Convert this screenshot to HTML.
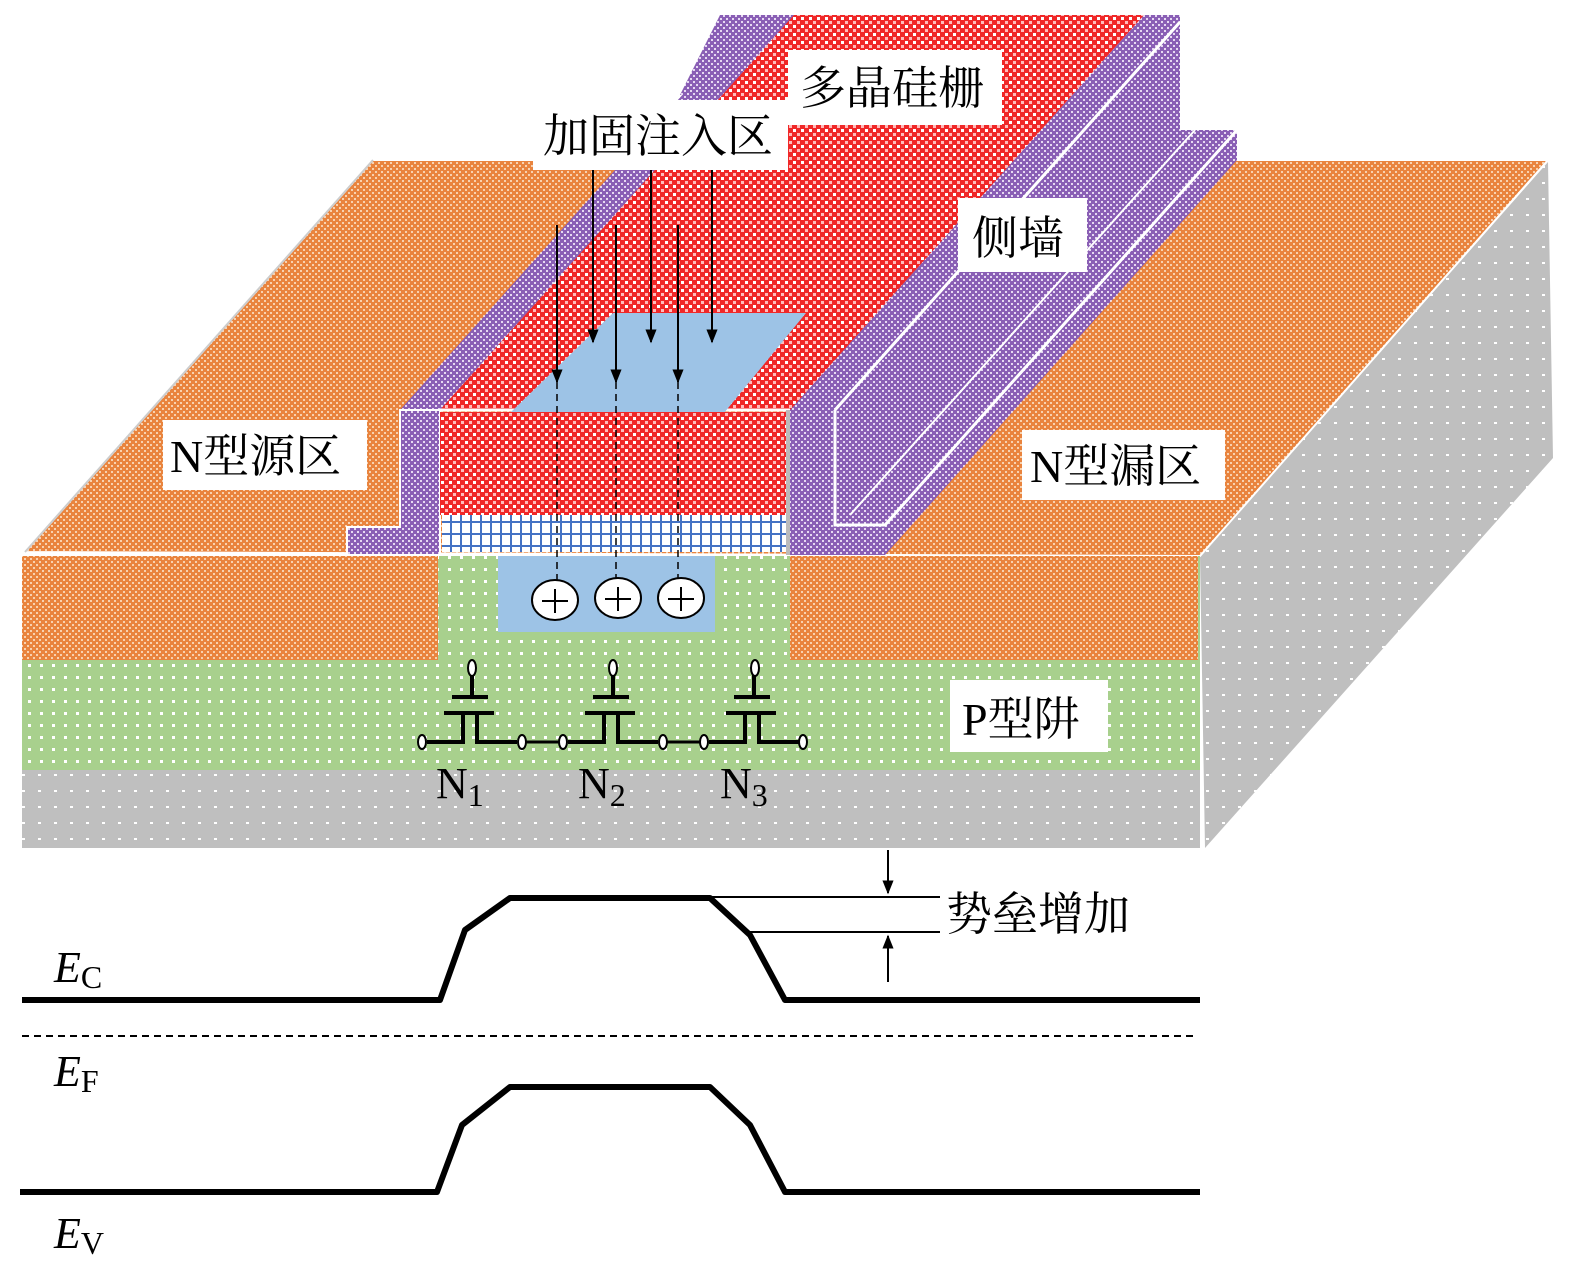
<!DOCTYPE html>
<html><head><meta charset="utf-8">
<style>
html,body{margin:0;padding:0;background:#fff;}
svg{display:block;}
.lbl{font-family:"Liberation Serif","Noto Serif CJK SC","Noto Sans CJK SC",serif;font-size:46px;fill:#000;}
.it{font-family:"Liberation Serif",serif;font-style:italic;font-size:44px;}
.sub{font-family:"Liberation Serif",serif;font-size:32px;}
</style></head><body>
<svg width="1575" height="1280" viewBox="0 0 1575 1280" xmlns="http://www.w3.org/2000/svg">
<defs>
<pattern id="or" width="6" height="6" patternUnits="userSpaceOnUse"><rect width="6" height="6" fill="#e9843e"/><rect x="0" y="0" width="2" height="2" fill="#f8d2b0"/><rect x="3" y="3" width="2" height="2" fill="#f8d2b0"/></pattern>
<pattern id="rd" width="8" height="8" patternUnits="userSpaceOnUse"><rect width="8" height="8" fill="#f02828"/><rect x="1" y="1" width="3" height="3" fill="#fff"/><rect x="5" y="5" width="3" height="3" fill="#fbb"/></pattern>
<pattern id="pu" width="6" height="6" patternUnits="userSpaceOnUse"><rect width="6" height="6" fill="#8a5fb5"/><rect x="0" y="0" width="2" height="2" fill="#e6d9f2"/><rect x="3" y="3" width="2" height="2" fill="#e6d9f2"/></pattern>
<pattern id="gr" width="12" height="12" patternUnits="userSpaceOnUse"><rect width="12" height="12" fill="#a8d08d"/><rect x="4" y="4" width="3" height="3" fill="#fff"/></pattern>
<pattern id="gy" width="16" height="16" patternUnits="userSpaceOnUse"><rect width="16" height="16" fill="#bfbfbf"/><rect x="6" y="6" width="3" height="2" fill="#fff"/></pattern>
<pattern id="bg" width="10" height="12" patternUnits="userSpaceOnUse"><rect width="10" height="12" fill="#fff"/><rect x="0" y="0" width="2" height="12" fill="#4472c4"/><rect x="0" y="5" width="10" height="2" fill="#4472c4"/></pattern>
<marker id="ar" viewBox="0 0 10 10" refX="9" refY="5" markerWidth="7" markerHeight="9" orient="auto"><path d="M0,1 L10,5 L0,9 z" fill="#000"/></marker>
</defs>

<polygon points="1200,556 1548,162 1553,458 1205,848" fill="url(#gy)"/>
<polygon points="25,552 373,160 1548,160 1200,556" fill="url(#or)" stroke="#fff" stroke-width="2"/>
<line x1="25" y1="552" x2="373" y2="160" stroke="#ccc" stroke-width="2"/>

<rect x="22" y="556" width="1178" height="292" fill="url(#gy)"/>
<rect x="22" y="556" width="1178" height="214" fill="url(#gr)"/>
<rect x="22" y="556" width="416" height="104" fill="url(#or)"/>
<rect x="790" y="556" width="408" height="104" fill="url(#or)"/>
<rect x="498" y="556" width="217" height="76" fill="#9dc3e6"/>

<polygon points="790,410 1144,15 1180,15 1180,130 1237,130 1237,160 885,555 790,555" fill="url(#pu)"/>
<polyline points="835,410 835,525 885,525 1237,130" fill="none" stroke="#fff" stroke-width="3"/>
<line x1="835" y1="410" x2="1180" y2="22" stroke="#fff" stroke-width="3"/>
<line x1="850" y1="515" x2="1195" y2="130" stroke="#fff" stroke-width="2"/>
<polygon points="400,410 754,15 794,15 440,410" fill="url(#pu)"/>
<polygon points="680,95 720,15 794,15 760,95" fill="url(#pu)"/>
<polygon points="440,410 794,15 1144,15 790,410" fill="url(#rd)"/>
<line x1="440" y1="410" x2="790" y2="410" stroke="#fff" stroke-width="3"/>
<polygon points="510,413 613,313 806,313 724,413" fill="#9dc3e6"/>

<polygon points="400,410 440,410 440,555 347,555 347,527 400,527" fill="url(#pu)" stroke="#fff" stroke-width="2"/>
<rect x="440" y="412" width="350" height="103" fill="url(#rd)"/>
<rect x="442" y="515" width="344" height="37" fill="url(#bg)"/>
<rect x="786" y="410" width="4" height="145" fill="#bbb"/>

<g stroke="#000" stroke-width="2" marker-end="url(#ar)">
<line x1="557" y1="225" x2="557" y2="382"/>
<line x1="616" y1="225" x2="616" y2="382"/>
<line x1="678" y1="225" x2="678" y2="382"/>
<line x1="593" y1="170" x2="593" y2="342"/>
<line x1="651" y1="170" x2="651" y2="342"/>
<line x1="712" y1="170" x2="712" y2="342"/>
</g>
<g stroke="#000" stroke-width="1.5" stroke-dasharray="7,5">
<line x1="557" y1="382" x2="557" y2="580"/>
<line x1="616" y1="382" x2="616" y2="578"/>
<line x1="678" y1="382" x2="678" y2="578"/>
</g>
<g stroke="#000" stroke-width="2" fill="#fff">
<ellipse cx="555" cy="600" rx="23" ry="20"/>
<ellipse cx="618" cy="598" rx="23" ry="20"/>
<ellipse cx="681" cy="598" rx="23" ry="20"/>
</g>
<g stroke="#000" stroke-width="2">
<line x1="542" y1="601" x2="568" y2="601"/><line x1="555" y1="589" x2="555" y2="613"/>
<line x1="605" y1="599" x2="631" y2="599"/><line x1="618" y1="587" x2="618" y2="611"/>
<line x1="668" y1="599" x2="694" y2="599"/><line x1="681" y1="587" x2="681" y2="611"/>
</g>

<g stroke="#000" stroke-width="4" fill="none">
<line x1="472" y1="674" x2="472" y2="697"/><line x1="452" y1="697" x2="488" y2="697"/><line x1="444" y1="713" x2="494" y2="713"/>
<polyline points="463,713 463,742 427,742"/><polyline points="477,713 477,742 517,742"/>
</g>
<g stroke="#000" stroke-width="4" fill="none" transform="translate(141,0)">
<line x1="472" y1="674" x2="472" y2="697"/><line x1="452" y1="697" x2="488" y2="697"/><line x1="444" y1="713" x2="494" y2="713"/>
<polyline points="463,713 463,742 427,742"/><polyline points="477,713 477,742 517,742"/>
</g>
<g stroke="#000" stroke-width="4" fill="none" transform="translate(282,0)">
<line x1="472" y1="674" x2="472" y2="697"/><line x1="452" y1="697" x2="488" y2="697"/><line x1="444" y1="713" x2="494" y2="713"/>
<polyline points="463,713 463,742 427,742"/><polyline points="477,713 477,742 517,742"/>
</g>
<g stroke="#000" stroke-width="3"><line x1="522" y1="742" x2="563" y2="742"/><line x1="663" y1="742" x2="703" y2="742"/></g>
<g stroke="#000" stroke-width="2" fill="#fff">
<ellipse cx="472" cy="668" rx="4" ry="8"/><ellipse cx="613" cy="668" rx="4" ry="8"/><ellipse cx="755" cy="668" rx="4" ry="8"/>
<ellipse cx="422" cy="742" rx="4" ry="7"/><ellipse cx="522" cy="742" rx="4" ry="7"/>
<ellipse cx="563" cy="742" rx="4" ry="7"/><ellipse cx="663" cy="742" rx="4" ry="7"/>
<ellipse cx="704" cy="742" rx="4" ry="7"/><ellipse cx="803" cy="742" rx="4" ry="7"/>
</g>
<g font-family="Liberation Serif, serif" font-size="44">
<text x="436" y="798">N<tspan font-size="32" dy="8">1</tspan></text>
<text x="578" y="798">N<tspan font-size="32" dy="8">2</tspan></text>
<text x="720" y="798">N<tspan font-size="32" dy="8">3</tspan></text>
</g>

<rect x="788" y="50" width="214" height="75" fill="#fff"/><text class="lbl" x="800" y="104">多晶硅栅</text>
<rect x="533" y="100" width="255" height="70" fill="#fff"/><text class="lbl" x="543" y="152">加固注入区</text>
<rect x="958" y="198" width="129" height="74" fill="#fff"/><text class="lbl" x="972" y="254">侧墙</text>
<rect x="163" y="420" width="204" height="70" fill="#fff"/><text class="lbl" x="170" y="472">N型源区</text>
<rect x="1022" y="430" width="203" height="70" fill="#fff"/><text class="lbl" x="1030" y="482">N型漏区</text>
<rect x="950" y="680" width="158" height="72" fill="#fff"/><text class="lbl" x="962" y="735">P型阱</text>

<g stroke="#000" stroke-width="6" fill="none" stroke-linejoin="round">
<polyline points="22,1000 440,1000 465,930 510,898 710,898 750,935 785,1000 1200,1000"/>
<polyline points="20,1192 437,1192 462,1125 510,1087 710,1087 750,1125 785,1192 1200,1192"/>
</g>
<line x1="22" y1="1036" x2="1195" y2="1036" stroke="#000" stroke-width="2" stroke-dasharray="7,5"/>
<g stroke="#000" stroke-width="2">
<line x1="710" y1="897" x2="940" y2="897"/>
<line x1="750" y1="932" x2="940" y2="932"/>
</g>
<g stroke="#000" stroke-width="2" marker-end="url(#ar)">
<line x1="888" y1="850" x2="888" y2="893"/>
<line x1="888" y1="982" x2="888" y2="936"/>
</g>
<text class="lbl" x="946" y="930">势垒增加</text>
<text x="54" y="982"><tspan class="it">E</tspan><tspan class="sub" dy="6">C</tspan></text>
<text x="54" y="1086"><tspan class="it">E</tspan><tspan class="sub" dy="6">F</tspan></text>
<text x="54" y="1248"><tspan class="it">E</tspan><tspan class="sub" dy="6">V</tspan></text>
</svg>
</body></html>
